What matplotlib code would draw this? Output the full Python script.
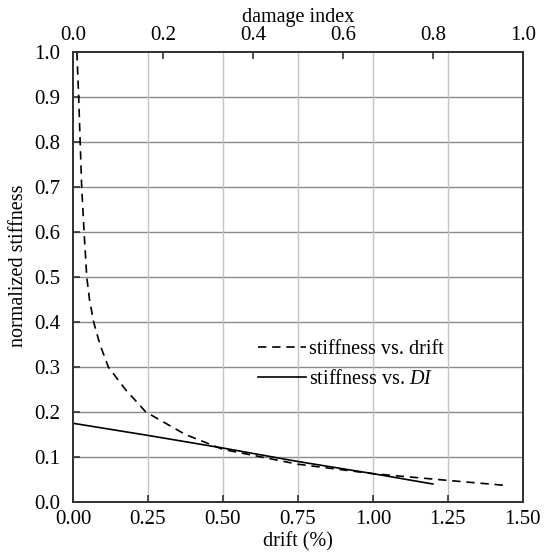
import matplotlib
matplotlib.use("Agg")
import matplotlib.pyplot as plt

plt.rcParams['font.family'] = ['Liberation Serif', 'DejaVu Serif']
plt.rcParams['mathtext.fontset'] = 'custom'
plt.rcParams['mathtext.it'] = 'Liberation Serif:italic'
plt.rcParams['mathtext.rm'] = 'Liberation Serif'

# stiffness vs drift (bottom axis)
drift = [0.013, 0.019, 0.024, 0.029, 0.037, 0.046, 0.055, 0.069, 0.09, 0.118,
         0.175, 0.243, 0.375, 0.5, 0.75, 1.0, 1.25, 1.44]
stiff_drift = [1.0, 0.9, 0.8, 0.7, 0.6, 0.5, 0.45, 0.4, 0.35, 0.3,
               0.25, 0.2, 0.15, 0.117, 0.084, 0.063, 0.048, 0.037]

# stiffness vs damage index (top axis)
di = [0.0, 0.167, 0.333, 0.5, 0.667, 0.8]
stiff_di = [0.175, 0.148, 0.12, 0.09, 0.063, 0.04]

drift_ticks = [0.0, 0.25, 0.5, 0.75, 1.0, 1.25, 1.5]
di_ticks = [0.0, 0.2, 0.4, 0.6, 0.8, 1.0]
y_ticks = [0.0, 0.1, 0.2, 0.3, 0.4, 0.5, 0.6, 0.7, 0.8, 0.9, 1.0]

fs = 14.5
tfs = 15
fig = plt.figure(figsize=(5.55, 5.55), dpi=100)
ax = fig.add_axes([0.1315, 0.0955, 0.8105, 0.8105])

for y in y_ticks[1:-1]:
    ax.axhline(y, color='#8a8a8a', lw=1.0, zorder=0)
for x in drift_ticks[1:-1]:
    ax.axvline(x, color='#c4c4c4', lw=1.0, zorder=0)

l1, = ax.plot(drift, stiff_drift, color='black', lw=1.2, ls=(0, (5, 3.5)),
              label='stiffness vs. drift')
ax.set_xlim(0, 1.5)
ax.set_ylim(0, 1.0)
ax.set_xticks(drift_ticks)
ax.set_xticklabels([f"{v:.2f}" for v in drift_ticks], fontsize=tfs)
ax.set_yticks(y_ticks)
ax.set_yticklabels([f"{v:.1f}" for v in y_ticks], fontsize=tfs)
ax.tick_params(direction='in', length=5, width=1.2, color='#333333')
ax.tick_params(axis='x', pad=6)
ax.tick_params(axis='y', pad=9)
ax.set_xlabel('drift (%)', fontsize=fs, labelpad=2)
ax.set_ylabel('normalized stiffness', fontsize=fs, labelpad=4)
ax.yaxis.set_label_coords(-0.10, 0.525)

ax2 = ax.twiny()
l2, = ax2.plot(di, stiff_di, color='black', lw=1.2, label='stiffness vs. $DI$')
ax2.set_xlim(0, 1.0)
ax2.set_xticks(di_ticks)
ax2.set_xticklabels([f"{v:.1f}" for v in di_ticks], fontsize=tfs)
ax2.tick_params(direction='in', length=5, width=1.2, pad=5, color='#333333')
ax2.set_xlabel('damage index', fontsize=fs, labelpad=3)

for a in (ax, ax2):
    for s in a.spines.values():
        s.set_color('#333333')
        s.set_linewidth(1.3)

ax.legend(handles=[l1, l2], loc='center left', bbox_to_anchor=(0.37, 0.305),
          frameon=False, fontsize=fs, handlelength=2.4, handletextpad=0.15,
          labelspacing=0.55)

fig.savefig('out.png', dpi=100)
